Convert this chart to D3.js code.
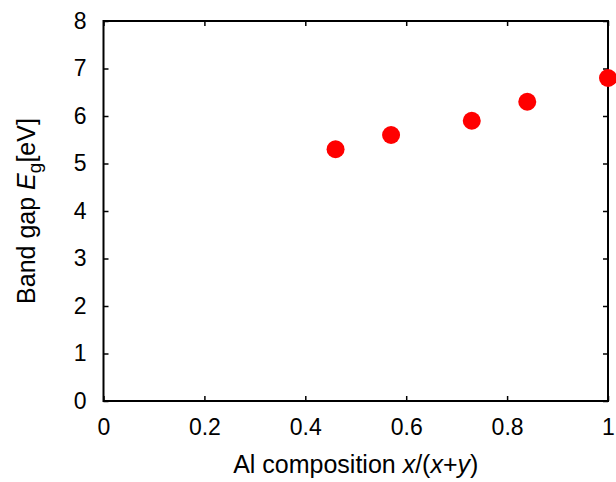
<!DOCTYPE html>
<html>
<head>
<meta charset="utf-8">
<script src="https://cdn.jsdelivr.net/npm/d3@7"></script>
<style>
  body { margin: 0; background: #fff; }
  text { font-family: "Liberation Sans", Arial, sans-serif; fill: #000; }
</style>
</head>
<body>
<script>
// data
var composition = [0.46, 0.57, 0.73, 0.84, 1.0];
var bandGap = [5.3, 5.6, 5.9, 6.3, 6.8];
var xTicks = [0, 0.2, 0.4, 0.6, 0.8, 1];
var yTicks = [0, 1, 2, 3, 4, 5, 6, 7, 8];

// set the dimensions and margins of the graph
var margin = {top: 21, right: 8, bottom: 81, left: 103.5},
    width = 616 - margin.left - margin.right,
    height = 482 - margin.top - margin.bottom;

var x = d3.scaleLinear().domain([0, 1]).range([0, width]);
var y = d3.scaleLinear().domain([0, 8]).range([height, 0]);

var svg = d3.select('body')
            .append('svg')
            .attr('width', 616)
            .attr('height', 482)
            .append('g')
            .attr('transform', 'translate(' + margin.left + ',' + margin.top + ')');

// inward ticks on all four sides
var tickLen = 5;
function styleAxis(g) {
    g.select('.domain').remove();
    g.selectAll('line').attr('stroke', '#000').attr('stroke-width', 1.5);
    g.selectAll('text').style('font-size', '23px').style('font-family', '"Liberation Sans", Arial, sans-serif');
}

svg.append('g')
    .attr('transform', 'translate(0,' + height + ')')
    .call(d3.axisBottom(x).tickValues(xTicks).tickSize(-tickLen).tickPadding(18)
        .tickFormat(function(d){ return d === 0 || d === 1 ? d3.format('d')(d) : d3.format('.1f')(d); }))
    .call(styleAxis);

svg.append('g')
    .call(d3.axisTop(x).tickValues(xTicks).tickSize(-tickLen).tickFormat(''))
    .call(styleAxis);

svg.append('g')
    .call(d3.axisLeft(y).tickValues(yTicks).tickSize(-tickLen).tickPadding(17).tickFormat(d3.format('d')))
    .call(styleAxis);

svg.append('g')
    .attr('transform', 'translate(' + width + ',0)')
    .call(d3.axisRight(y).tickValues(yTicks).tickSize(-tickLen).tickFormat(''))
    .call(styleAxis);

// frame
svg.append('rect')
    .attr('width', width)
    .attr('height', height)
    .attr('fill', 'none')
    .attr('stroke', '#000')
    .attr('stroke-width', 2);

// points
svg.selectAll('.pt')
    .data(composition)
    .enter()
    .append('circle')
    .classed('pt', true)
    .attr('cx', function(d){ return x(d); })
    .attr('cy', function(d, i){ return y(bandGap[i]); })
    .attr('r', 9)
    .attr('fill', '#ff0000');

// x axis label
var xl = svg.append('text')
    .attr('x', width / 2)
    .attr('y', height + 72)
    .attr('text-anchor', 'middle')
    .style('font-size', '25px');
xl.append('tspan').text('Al composition ');
xl.append('tspan').style('font-style', 'italic').text('x');
xl.append('tspan').text('/(');
xl.append('tspan').style('font-style', 'italic').text('x');
xl.append('tspan').text('+');
xl.append('tspan').style('font-style', 'italic').text('y');
xl.append('tspan').text(')');

// y axis label
var yl = svg.append('text')
    .attr('transform', 'translate(' + (-margin.left + 35) + ',' + (height / 2) + ') rotate(-90)')
    .attr('text-anchor', 'middle')
    .style('font-size', '25px');
yl.append('tspan').text('Band gap ');
yl.append('tspan').style('font-style', 'italic').text('E');
yl.append('tspan').attr('dy', 6).style('font-size', '19px').text('g');
yl.append('tspan').attr('dy', -6).text('[eV]');
</script>
</body>
</html>
